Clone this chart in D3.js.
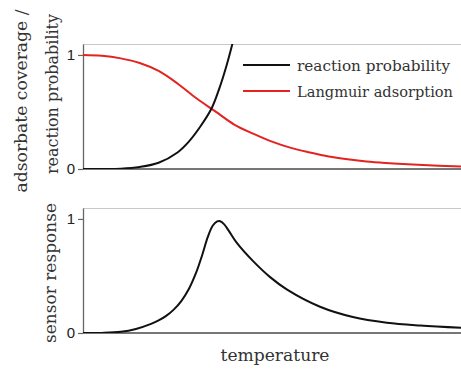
<!DOCTYPE html>
<html>
<head>
<meta charset="utf-8">
<script src="https://cdn.jsdelivr.net/npm/d3@7"></script>
<style>
  body { margin: 0; background: #fff; }
  svg { display: block; }
  .serif { font-family: "DejaVu Serif", "Liberation Serif", "Times New Roman", Times, serif; }
</style>
</head>
<body>
<script>
// temperature in arbitrary units (0..100)
const tempReaction = [0, 5, 10, 15, 20, 25, 28, 31, 34, 36, 38, 40, 41];
const reactionProb = [0, 0.0005, 0.003, 0.018, 0.055, 0.145, 0.24, 0.37, 0.53, 0.70, 0.91, 1.16, 1.3];

const tempLangmuir = [0, 5, 10, 15, 20, 25, 30, 35, 40, 45, 50, 55, 60, 65, 70, 75, 80, 90, 100];
const langmuir = [1.0, 0.993, 0.97, 0.93, 0.86, 0.75, 0.62, 0.505, 0.39, 0.31, 0.24, 0.185, 0.145, 0.11, 0.085, 0.065, 0.052, 0.034, 0.022];

const tempSensor = [0, 5, 10, 14, 18, 20, 22, 24, 26, 28, 30, 31.5, 33, 34.3, 35.5, 36.3, 37.3, 38.5, 40.7, 45, 49.5, 54, 62.7, 71.4, 80.4, 89.2, 100];
const sensor = [0, 0.001, 0.01, 0.035, 0.08, 0.11, 0.15, 0.205, 0.28, 0.385, 0.535, 0.68, 0.84, 0.94, 0.978, 0.98, 0.955, 0.9, 0.79, 0.63, 0.49, 0.38, 0.23, 0.14, 0.09, 0.065, 0.045];

const tickValues = [0, 1];
const legendLabels = ["reaction probability", "Langmuir adsorption"];
const seriesColors = ["#111111", "#e3231f"];

const width = 461, height = 370;
const sans = "'Liberation Sans', Arial, sans-serif";

const svg = d3.select("body").append("svg")
    .attr("width", width)
    .attr("height", height);

const x = d3.scaleLinear().domain([0, 100]).range([83, 461]);

// two stacked panels
const panels = [
    { top: 44, bottom: 169 },
    { top: 208, bottom: 333 }
];

function makePanel(p, i) {
    const y = d3.scaleLinear().domain([0, 1.096]).range([p.bottom, p.top]);

    svg.append("clipPath").attr("id", "clip" + i)
        .append("rect")
        .attr("x", x(0)).attr("y", p.top)
        .attr("width", x(100) - x(0)).attr("height", p.bottom - p.top);

    // top frame line
    svg.append("line")
        .attr("x1", x(0)).attr("x2", x(100))
        .attr("y1", p.top + 0.5).attr("y2", p.top + 0.5)
        .attr("stroke", "#c8c8c8").attr("stroke-width", 1);

    // left axis
    const ax = svg.append("g")
        .attr("transform", "translate(" + x(0) + ",0)")
        .call(d3.axisLeft(y).tickValues(tickValues).tickFormat(d3.format("d"))
            .tickSize(5).tickSizeOuter(0).tickPadding(3));
    ax.select(".domain").attr("stroke", "#666").attr("stroke-width", 1.3);
    ax.selectAll(".tick line").attr("stroke", "#666").attr("stroke-width", 1.2);
    ax.selectAll(".tick text")
        .attr("fill", "#222")
        .style("font-family", sans)
        .style("font-size", "15px");

    // bottom axis line
    svg.append("line")
        .attr("x1", x(0)).attr("x2", x(100))
        .attr("y1", p.bottom).attr("y2", p.bottom)
        .attr("stroke", "#777").attr("stroke-width", 2);

    return y;
}

const yTop = makePanel(panels[0], 0);
const yBot = makePanel(panels[1], 1);

function drawLine(xs, ys, yScale, color, clipId) {
    const pts = xs.map((t, i) => [t, ys[i]]);
    const line = d3.line()
        .x(d => x(d[0]))
        .y(d => yScale(d[1]))
        .curve(d3.curveCatmullRom.alpha(0.5));
    svg.append("path")
        .datum(pts)
        .attr("clip-path", "url(#" + clipId + ")")
        .attr("fill", "none")
        .attr("stroke", color)
        .attr("stroke-width", 2)
        .attr("d", line);
}

drawLine(tempLangmuir, langmuir, yTop, seriesColors[1], "clip0");
drawLine(tempReaction, reactionProb, yTop, seriesColors[0], "clip0");
drawLine(tempSensor, sensor, yBot, seriesColors[0], "clip1");

// serif text stretched to the width of the original
function serifText(sel, size, len) {
    sel.attr("class", "serif")
        .attr("fill", "#333")
        .style("font-size", size + "px")
        .attr("textLength", len)
        .attr("lengthAdjust", "spacingAndGlyphs");
    return sel;
}

// legend
const legendWidths = [153, 156];
const legend = svg.append("g");
legendLabels.forEach((lab, i) => {
    const ly = 65 + i * 26;
    legend.append("line")
        .attr("x1", 243).attr("x2", 290)
        .attr("y1", ly).attr("y2", ly)
        .attr("stroke", seriesColors[i]).attr("stroke-width", 2);
    serifText(legend.append("text")
        .attr("x", 297).attr("y", ly + 6)
        .text(lab), 15, legendWidths[i]);
});

// axis titles
function vLabel(txt, cx, cy, len) {
    serifText(svg.append("text")
        .attr("transform", "translate(" + cx + "," + cy + ") rotate(-90)")
        .attr("text-anchor", "middle")
        .attr("y", 6)
        .text(txt), 17, len);
}
vLabel("adsorbate coverage /", 21, 101, 183);
vLabel("reaction probability", 52, 94, 160);
vLabel("sensor response", 50, 273, 140);

serifText(svg.append("text")
    .attr("x", 275).attr("y", 361)
    .attr("text-anchor", "middle")
    .text("temperature"), 17, 109);
</script>
</body>
</html>
